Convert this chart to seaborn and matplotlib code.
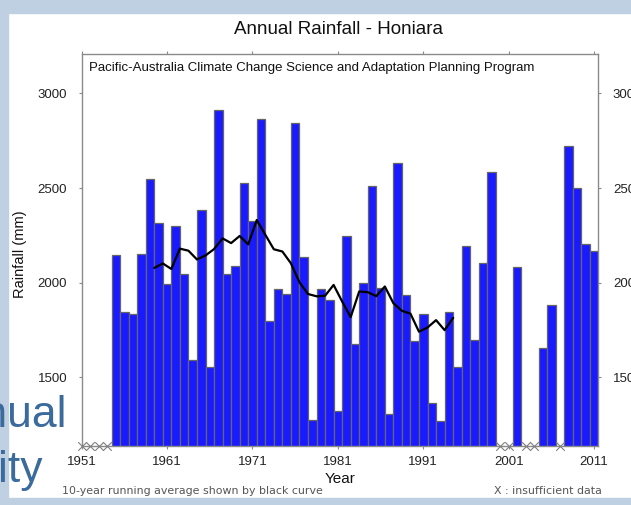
import numpy as np
import pandas as pd
import matplotlib
matplotlib.use("Agg")
import matplotlib.pyplot as plt
import seaborn as sns
from matplotlib.patches import Rectangle

# Annual rainfall at Honiara (mm); NaN = insufficient data
years = list(range(1955, 2012))
rainfall = [2146, 1847, 1837, 2153, 2550, 2316, 1991, 2301, 2044, 1592,
            2385, 1555, 2912, 2044, 2086, 2529, 2327, 2865, 1797, 1968,
            1938, 2844, 2135, 1277, 1968, 1908, 1320, 2248, 1676, 1996,
            2510, 1970, 1309, 2631, 1933, 1694, 1833, 1367, 1272, 1847,
            1555, 2193, 1697, 2103, 2583, np.nan, np.nan, 2081, np.nan, np.nan,
            1657, 1884, np.nan, 2724, 2501, 2204, 2167]
insufficient_years = [1951, 1952, 1953, 1954, 2000, 2001, 2003, 2004, 2007]

x_ticks = [1951, 1961, 1971, 1981, 1991, 2001, 2011]
y_ticks = [1500, 2000, 2500, 3000]

sns.set_style("white")
plt.rcParams["font.family"] = ["Liberation Sans", "DejaVu Sans"]

df = pd.DataFrame({"year": years, "rain": rainfall})
bars = df.dropna()

# 10-year running mean, placed at the centre of each window
running = df.set_index("year")["rain"].rolling(10).mean().dropna()
avg = pd.DataFrame({"year": running.index - 4.5, "rain": running.values})

W, H = 631, 505
fig = plt.figure(figsize=(W / 100, H / 100), dpi=100)

# slide background strips
band = "#bfd0e2"
fig.patches.append(Rectangle((0, 1 - 13 / H), 1, 13 / H, transform=fig.transFigure,
                             color=band, zorder=0))
fig.patches.append(Rectangle((0, 0), 8 / W, 1, transform=fig.transFigure,
                             color=band, zorder=0))
fig.patches.append(Rectangle((0, 0), 1, 7 / H, transform=fig.transFigure,
                             color=band, zorder=0))

left, right, top, bottom = 81.7, 598.3, 54, 445.7
ax = fig.add_axes([left / W, 1 - bottom / H, (right - left) / W, (bottom - top) / H])

sns.barplot(data=bars, x="year", y="rain", native_scale=True, width=1.0,
            color="#1a1aff", saturation=1, edgecolor="#666666", linewidth=0.9,
            errorbar=None, ax=ax, zorder=2)
sns.lineplot(data=avg, x="year", y="rain", color="black", linewidth=1.6, ax=ax, zorder=3)

ymin, ymax = 1139, 3208
sns.scatterplot(x=insufficient_years, y=[ymin] * len(insufficient_years), marker="x",
                s=38, color="#808080", linewidth=0.8, ax=ax, clip_on=False, zorder=4)

ax.set_xlim(1951, 2011.5)
ax.set_ylim(ymin, ymax)
ax.set_xticks(x_ticks)
ax.set_xticklabels([str(t) for t in x_ticks])
ax.set_yticks(y_ticks)
ax.set_yticklabels([str(t) for t in y_ticks])

for s in ax.spines.values():
    s.set_color("#8a8a8a")
    s.set_linewidth(1.0)

ax.tick_params(axis="x", which="both", direction="out", length=2.5, width=0.8,
               color="#8a8a8a", top=True, bottom=True, labelsize=9.5,
               labelcolor="#222222", pad=5)
ax.tick_params(axis="y", which="both", direction="out", length=2.5, width=0.8,
               color="#8a8a8a", left=True, right=True, labelright=True,
               labelsize=9.5, labelcolor="#222222", pad=8)

ax.set_xlabel("Year", fontsize=11, color="#111111")
ax.xaxis.set_label_coords(0.5, -0.066)
ax.set_ylabel("Rainfall (mm)", fontsize=10.5, color="#111111")
ax.yaxis.set_label_coords(-0.106, 0.49)

ax.text(0.014, 0.964, "Pacific-Australia Climate Change Science and Adaptation Planning Program",
        transform=ax.transAxes, fontsize=9.5, color="#111111", va="center", ha="left")

fig.text(338 / W, 1 - 30 / H, "Annual Rainfall - Honiara", fontsize=13.5,
         color="#111111", ha="center", va="center")

fig.text(62 / W, 1 - 491 / H, "10-year running average shown by black curve",
         family=["DejaVu Sans"], fontsize=7.9, color="#555555", ha="left", va="center")
fig.text(602 / W, 1 - 491 / H, "X : insufficient data",
         family=["DejaVu Sans"], fontsize=7.9, color="#555555", ha="right", va="center")

# slide heading words running in from the left edge
fig.text(67 / W, 1 - 427 / H, "Annual", fontsize=32, color="#3b6a9c",
         ha="right", va="baseline")
fig.text(43 / W, 1 - 482 / H, "Variability", fontsize=32, color="#3b6a9c",
         ha="right", va="baseline")

fig.savefig("out.png", dpi=100)
